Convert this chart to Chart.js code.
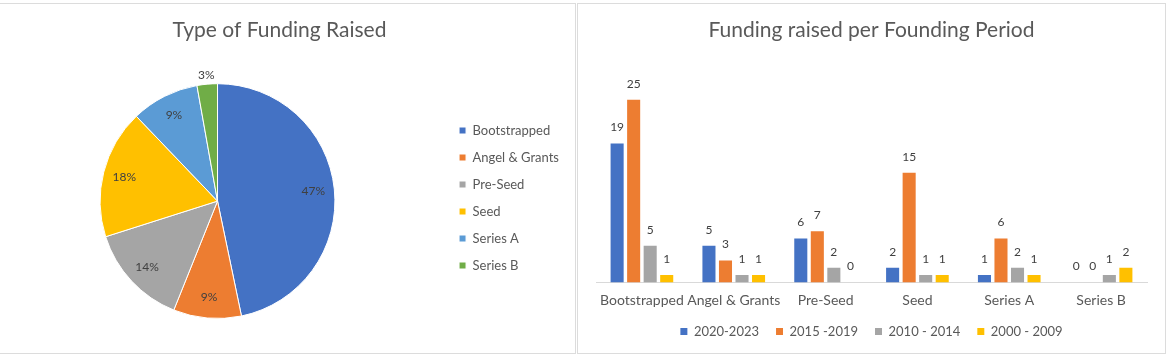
<!DOCTYPE html>
<html>
<head>
<meta charset="utf-8">
<script src="https://cdn.jsdelivr.net/npm/chart.js@4/dist/chart.umd.min.js"></script>
<style>
  html, body { margin: 0; padding: 0; background: #ffffff; }
  body { width: 1170px; height: 357px; position: relative; overflow: hidden; }
  .panel { position: absolute; box-sizing: border-box; border: 1px solid #dcdcdc; background: #fff; }
  #pLeft { left: -1px; top: 3px; width: 577px; height: 351px; }
  #pRight { left: 577px; top: 3px; width: 589px; height: 351px; }
  #pieWrap { position: absolute; left: 0; top: 4px; width: 574px; height: 349px; overflow: hidden; }
  #pieCanvas { position: absolute; left: -10px; top: 0; }
  #barCanvas { position: absolute; left: 578px; top: 4px; }
</style>
</head>
<body>
<div class="panel" id="pLeft"></div>
<div class="panel" id="pRight"></div>
<div id="pieWrap"><canvas id="pieCanvas" width="584" height="349" style="width:584px;height:349px"></canvas></div>
<canvas id="barCanvas" width="587" height="344" style="width:587px;height:344px"></canvas>
<script>
// ---- Data ----
const fundingTypes = ['Bootstrapped', 'Angel & Grants', 'Pre-Seed', 'Seed', 'Series A', 'Series B'];
const pieValues = [50, 10, 15, 19, 10, 3];
const periods = ['2020-2023', '2015 -2019', '2010 - 2014', '2000 - 2009'];
const vals2020_2023 = [19, 5, 6, 2, 1, 0];
const vals2015_2019 = [25, 3, 7, 15, 6, 0];
const vals2010_2014 = [5, 1, 2, 1, 2, 1];
const vals2000_2009 = [1, 1, 0, 1, 1, 2];
const pieTitle = 'Type of Funding Raised';
const barTitle = 'Funding raised per Founding Period';

const pieColors = ['#4472C4', '#ED7D31', '#A5A5A5', '#FFC000', '#5B9BD5', '#70AD47'];
const barColors = ['#4472C4', '#ED7D31', '#A5A5A5', '#FFC000'];
const FONT = 'Lato, "Open Sans", sans-serif';

Chart.defaults.font.family = FONT;
Chart.defaults.animation = false;

const pieLabels = {
  id: 'pieLabels',
  afterDatasetsDraw(chart) {
    const ctx = chart.ctx;
    const data = chart.data.datasets[0].data;
    const total = data.reduce((a, b) => a + b, 0);
    const meta = chart.getDatasetMeta(0);
    ctx.save();
    ctx.font = '12px ' + FONT;
    ctx.fillStyle = '#404040';
    ctx.textAlign = 'center';
    ctx.textBaseline = 'middle';
    meta.data.forEach((arc, i) => {
      const frac = data[i] / total;
      const mid = (arc.startAngle + arc.endAngle) / 2;
      const r = frac < 0.05 ? arc.outerRadius * 1.08 : arc.outerRadius * 0.82;
      ctx.fillText(Math.round(frac * 100) + '%', arc.x + Math.cos(mid) * r, arc.y + Math.sin(mid) * r);
    });
    ctx.restore();
  }
};

new Chart(document.getElementById('pieCanvas'), {
  type: 'pie',
  data: {
    labels: fundingTypes,
    datasets: [{ data: pieValues, backgroundColor: pieColors, borderColor: '#ffffff', borderWidth: 1 }]
  },
  options: {
    responsive: false,
    maintainAspectRatio: false,
    layout: { padding: { left: 0, right: 5, top: 0, bottom: 34 } },
    plugins: {
      title: { display: true, text: pieTitle, color: '#595959', font: { size: 21, weight: 'normal' }, padding: { top: 14, bottom: 40 } },
      legend: {
        position: 'right',
        align: 'start',
        title: { display: true, text: ' ', font: { size: 10 }, padding: { top: 47, bottom: 47 } },
        labels: { boxWidth: 7, boxHeight: 7, padding: 14, color: '#595959', font: { size: 13 } }
      },
      tooltip: { enabled: false }
    }
  },
  plugins: [pieLabels]
});

const barLabels = {
  id: 'barLabels',
  afterDatasetsDraw(chart) {
    const ctx = chart.ctx;
    ctx.save();
    ctx.font = '12px ' + FONT;
    ctx.fillStyle = '#404040';
    ctx.textAlign = 'center';
    ctx.textBaseline = 'middle';
    chart.data.datasets.forEach((ds, i) => {
      const meta = chart.getDatasetMeta(i);
      meta.data.forEach((bar, j) => {
        ctx.fillText(String(ds.data[j]), bar.x, bar.y - 16);
      });
    });
    ctx.restore();
  }
};

const barSeries = [vals2020_2023, vals2015_2019, vals2010_2014, vals2000_2009];
new Chart(document.getElementById('barCanvas'), {
  type: 'bar',
  data: {
    labels: fundingTypes,
    datasets: barSeries.map((d, i) => ({
      label: periods[i], data: d, backgroundColor: barColors[i],
      categoryPercentage: 0.72, barPercentage: 0.79
    }))
  },
  options: {
    responsive: false,
    maintainAspectRatio: false,
    layout: { padding: { left: 18, right: 18, top: 0, bottom: 0 } },
    scales: {
      x: {
        grid: { display: false, drawTicks: false },
        border: { display: true, color: '#d9d9d9', width: 1 },
        ticks: { color: '#595959', font: { size: 14 }, padding: 10, maxRotation: 0, autoSkip: false },
        afterFit(scale) { scale.height = 25.6; }
      },
      y: { display: false, min: 0, max: 30 }
    },
    plugins: {
      title: { display: true, text: barTitle, color: '#595959', font: { size: 21, weight: 'normal' }, padding: { top: 14, bottom: 20 } },
      legend: {
        position: 'bottom',
        labels: { boxWidth: 7, boxHeight: 7, padding: 17, color: '#595959', font: { size: 13 } }
      },
      tooltip: { enabled: false }
    }
  },
  plugins: [barLabels]
});
</script>
</body>
</html>
